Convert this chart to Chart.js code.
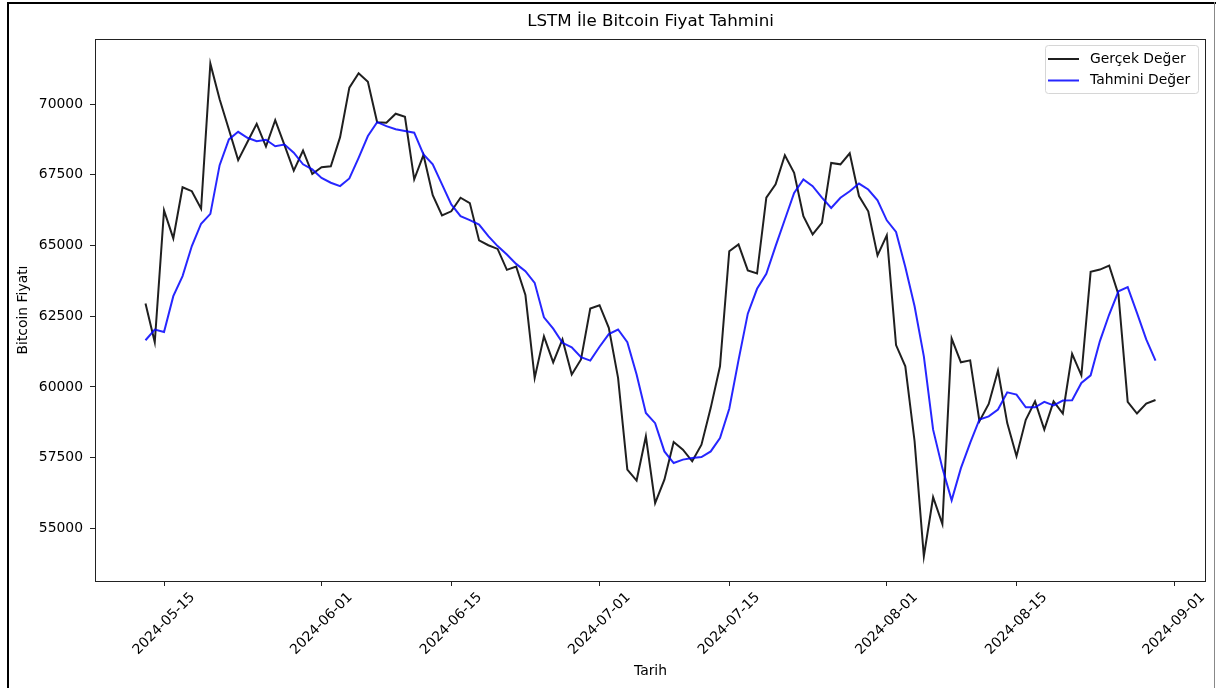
<!DOCTYPE html>
<html>
<head>
<meta charset="utf-8">
<script src="https://cdn.jsdelivr.net/npm/chart.js@4.4.1/dist/chart.umd.min.js"></script>
<style>
html,body{margin:0;padding:0;background:#fff;}
#wrap{position:relative;width:1218px;height:688px;}
canvas{display:block;}
</style>
</head>
<body>
<div id="wrap"><canvas id="c" width="1218" height="688"></canvas></div>
<script>
// ---------------- data ----------------
const startDate = '2024-05-13';
const seriesNames = ['Gerçek Değer', 'Tahmini Değer'];
const titleText = 'LSTM İle Bitcoin Fiyat Tahmini';
const xTitle = 'Tarih';
const yTitle = 'Bitcoin Fiyatı';

const actual = [
  62950, 61580, 66240, 65250, 67060, 66920, 66300, 71430, 70170, 69100,
  68020, 68660, 69300, 68500, 69430, 68550, 67650, 68360, 67530,
  67770, 67800, 68830, 70580, 71090, 70790, 69360, 69340, 69660, 69550,
  67340, 68200, 66780, 66060, 66210, 66690, 66500, 65180, 65010, 64880,
  64140, 64260, 63250, 60320, 61790, 60870, 61680, 60440, 60970, 62770,
  62890, 62090, 60320, 57080, 56690, 58250, 55890, 56720, 58050, 57780,
  57370, 57960, 59260, 60730, 64800, 65040, 64120, 64010, 66690, 67160,
  68190, 67570, 66040, 65390, 65800, 67920, 67870, 68260, 66750, 66210, 64650,
  65360, 61480, 60730, 58080, 54010, 56100, 55150, 61710, 60870, 60940,
  58790, 59400, 60580, 58720, 57550, 58840, 59490, 58490, 59490, 59060,
  61170, 60410, 64070, 64150, 64290, 63270, 59470, 59060, 59410, 59540
];

const predicted = [
  61650, 62030, 61940, 63210, 63920, 64980, 65770, 66120, 67840, 68750,
  69020, 68810, 68690, 68740, 68510, 68570, 68280, 67870, 67690,
  67390, 67220, 67100, 67370, 68100, 68870, 69360, 69220, 69110, 69050,
  68990, 68220, 67870, 67160, 66450, 66040, 65900, 65740, 65330, 64980,
  64680, 64350, 64090, 63680, 62460, 62060, 61560, 61400, 61050, 60930,
  61420, 61870, 62030, 61580, 60440, 59080, 58720, 57720, 57310, 57430,
  57490, 57520, 57720, 58190, 59230, 60950, 62590, 63470, 64000, 64980,
  65920, 66860, 67340, 67100, 66690, 66330, 66690, 66920, 67190, 66980, 66600,
  65890, 65480, 64240, 62850, 61080, 58490, 57130, 55990, 57130, 58020,
  58850, 58960, 59200, 59810, 59730, 59280, 59280, 59470, 59350, 59520,
  59530, 60140, 60410, 61620, 62560, 63380, 63530, 62620, 61680, 60930
];

const xTickLabels = ['2024-05-15', '2024-06-01', '2024-06-15', '2024-07-01',
                     '2024-07-15', '2024-08-01', '2024-08-15', '2024-09-01'];
const yTicks = [55000, 57500, 60000, 62500, 65000, 67500, 70000];

// ---------------- helpers ----------------
function dayNum(s) {
  const p = s.split('-').map(Number);
  return Date.UTC(p[0], p[1] - 1, p[2]) / 86400000;
}
const d0 = dayNum(startDate);
const dates = actual.map((_, i) => new Date((d0 + i) * 86400000).toISOString().slice(0, 10));
const xVals = dates.map(dayNum);
const xTickVals = xTickLabels.map(dayNum);

const xSpan = xVals[xVals.length - 1] - xVals[0];
const xMin = xVals[0] - 0.05 * xSpan;
const xMax = xVals[xVals.length - 1] + 0.05 * xSpan;
const allY = actual.concat(predicted);
const yLo = Math.min(...allY), yHi = Math.max(...allY);
const yMin = yLo - 0.05 * (yHi - yLo);
const yMax = yHi + 0.05 * (yHi - yLo);

const FONT = 'DejaVu Sans';
const SMALL = 13.9, BIG = 16.7;
Chart.defaults.font.family = FONT;
Chart.defaults.color = '#000';

const decorPlugin = {
  id: 'decor',
  beforeDraw(chart) {
    const ctx = chart.ctx;
    ctx.save();
    ctx.fillStyle = '#fff';
    ctx.fillRect(0, 0, chart.width, chart.height);
    ctx.restore();
  },
  afterDraw(chart) {
    const ctx = chart.ctx;
    const a = chart.chartArea;
    const xs = chart.scales.x;
    ctx.save();
    // spines
    ctx.strokeStyle = '#222';
    ctx.lineWidth = 1;
    ctx.strokeRect(Math.round(a.left) + 0.5, Math.round(a.top) + 0.5,
                   Math.round(a.right - a.left) - 1, Math.round(a.bottom - a.top));
    // x tick labels (rotated 45, centered like matplotlib)
    ctx.font = SMALL + 'px "' + FONT + '"';
    ctx.fillStyle = '#000';
    ctx.textAlign = 'center';
    ctx.textBaseline = 'middle';
    xs.ticks.forEach((t, i) => {
      const px = xs.getPixelForValue(t.value);
      const label = xTickLabels[i];
      const w = ctx.measureText(label).width;
      const h = 15;
      const bb = (w + h) * Math.SQRT1_2;
      const cy = a.bottom + 9 + bb / 2;
      ctx.save();
      ctx.translate(px, cy);
      ctx.rotate(-Math.PI / 4);
      ctx.fillText(label, 0, 0);
      ctx.restore();
    });
    // title
    ctx.font = BIG + 'px "' + FONT + '"';
    ctx.fillText(titleText, (a.left + a.right) / 2, 22);
    // axis titles
    ctx.font = SMALL + 'px "' + FONT + '"';
    ctx.fillText(xTitle, (a.left + a.right) / 2, 671);
    ctx.save();
    ctx.translate(23, (a.top + a.bottom) / 2);
    ctx.rotate(-Math.PI / 2);
    ctx.fillText(yTitle, 0, 0);
    ctx.restore();
    // legend
    const lx = 1045.5, ly = 45.5, lw = 153, lh = 48;
    ctx.fillStyle = 'rgba(255,255,255,0.8)';
    ctx.strokeStyle = '#d6d6d6';
    ctx.lineWidth = 1;
    ctx.beginPath();
    ctx.roundRect(lx, ly, lw, lh, 3);
    ctx.fill();
    ctx.stroke();
    ctx.font = SMALL + 'px "' + FONT + '"';
    ctx.textAlign = 'left';
    const rows = [59, 80.5];
    chart.data.datasets.forEach((ds, i) => {
      const y = rows[i];
      ctx.strokeStyle = ds.borderColor;
      ctx.lineWidth = 2;
      ctx.beginPath();
      ctx.moveTo(1048, y);
      ctx.lineTo(1079, y);
      ctx.stroke();
      ctx.fillStyle = '#000';
      ctx.fillText(ds.label, 1090, y);
    });
    // screenshot frame
    ctx.fillStyle = '#000';
    ctx.fillRect(7, 2, 2, 686);
    ctx.fillRect(7, 2, 1209, 2);
    ctx.fillStyle = '#888';
    ctx.fillRect(1214, 2, 1, 686);
    ctx.restore();
  }
};

new Chart(document.getElementById('c'), {
  type: 'line',
  data: {
    datasets: [
      {
        label: seriesNames[0],
        data: xVals.map((x, i) => ({ x: x, y: actual[i] })),
        borderColor: 'rgba(0,0,0,0.88)',
        borderWidth: 2,
        pointRadius: 0,
        tension: 0,
        order: 1
      },
      {
        label: seriesNames[1],
        data: xVals.map((x, i) => ({ x: x, y: predicted[i] })),
        borderColor: 'rgba(0,0,255,0.85)',
        borderWidth: 2,
        pointRadius: 0,
        tension: 0,
        order: 0
      }
    ]
  },
  options: {
    responsive: false,
    animation: false,
    devicePixelRatio: 1,
    layout: { padding: { left: 0, top: 39, right: 12, bottom: 0 } },
    plugins: { legend: { display: false }, title: { display: false }, tooltip: { enabled: false } },
    scales: {
      x: {
        type: 'linear',
        min: xMin,
        max: xMax,
        afterBuildTicks: s => { s.ticks = xTickVals.map(v => ({ value: v })); },
        afterFit: s => { s.height = 107; },
        ticks: { display: false },
        grid: { display: true, drawOnChartArea: false, drawTicks: true, tickLength: 5, color: '#222', lineWidth: 1 },
        border: { display: false }
      },
      y: {
        type: 'linear',
        min: yMin,
        max: yMax,
        afterBuildTicks: s => { s.ticks = yTicks.map(v => ({ value: v })); },
        afterFit: s => { s.width = 95; },
        ticks: { font: { size: SMALL }, color: '#000', padding: 7, callback: v => String(v) },
        grid: { display: true, drawOnChartArea: false, drawTicks: true, tickLength: 5, color: '#222', lineWidth: 1 },
        border: { display: false }
      }
    }
  },
  plugins: [decorPlugin]
});
</script>
</body>
</html>
